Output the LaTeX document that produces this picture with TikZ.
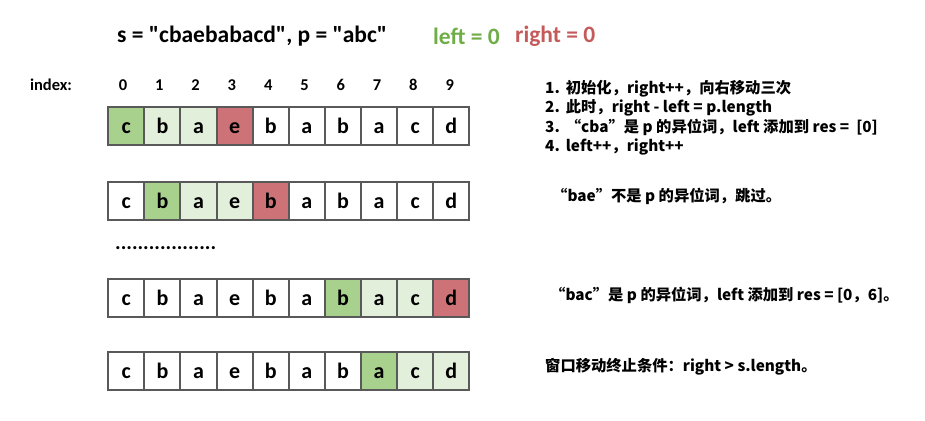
\documentclass[tikz,border=0pt]{standalone}
\usepackage{fontspec}
\setmainfont{Carlito}[Ligatures=TeXOff]
\newfontfamily\cjk{Noto Sans CJK SC}
\usetikzlibrary{positioning}
\definecolor{winframe}{RGB}{89,89,89}
\definecolor{windark}{RGB}{169,209,142}
\definecolor{winlight}{RGB}{226,239,218}
\definecolor{winred}{RGB}{205,114,119}
\definecolor{txtgreen}{RGB}{112,173,71}
\definecolor{txtred}{RGB}{197,90,90}

\begin{document}
\begin{tikzpicture}[x=1pt,y=-1pt,
cell/.style={draw=winframe,line width=2pt,minimum width=36.1pt,minimum height=38pt,inner sep=0pt,text height=14pt,text depth=0pt,font=\fontsize{22}{22}\selectfont\bfseries},
idx/.style={font=\fontsize{16.5}{16.5}\selectfont\bfseries},
ttl/.style={inner sep=0pt,font=\fontsize{23.5}{23.5}\selectfont\bfseries},
note/.style={inner sep=0pt,text height=11pt,text depth=4pt,font=\cjk\fontsize{15.3}{19}\selectfont\bfseries}
]
\useasboundingbox (0,0) rectangle (925,420);

\node[ttl,anchor=west] (title) at (117,36) {s = "cbaebabacd", p = "abc"};
\node[ttl,anchor=west,text=txtgreen] (lft) at (433,36) {left = 0};
\node[ttl,anchor=west,text=txtred] (rgt) at (515,36) {right = 0};

\node[idx] (index) at (51,85) {index:};
\foreach \i in {0,...,9}
  \node[idx] (i\i) at (123+36.3*\i,85) {\i};

\foreach \row/\yy/\l/\r in {1/126/0/3,2/201/1/4,3/298/6/9,4/371/7/10} {
  \foreach \ch [count=\i from 0] in {c,b,a,e,b,a,b,a,c,d} {
    \ifnum\i=\l \def\cf{windark}\else\ifnum\i=\r \def\cf{winred}\else
      \def\cf{white}\ifnum\i>\l\ifnum\i<\r \def\cf{winlight}\fi\fi\fi\fi
    \node[cell,fill=\cf] (r\row c\i) at (126.3+36.1*\i,\yy) {\ch};
  }
}

\node[anchor=west,inner sep=0pt,font=\fontsize{21}{21}\selectfont\bfseries] (dots) at (115,248) {..................};

\node[note,anchor=west] (s1) at (545,90) {1.\hspace{6pt}初始化，right++，向右移动三次};
\node[note,below=4pt of s1.south west,anchor=north west] (s2) {2.\hspace{6pt}此时，right - left = p.length};
\node[note,below=4pt of s2.south west,anchor=north west] (s3) {3.\hspace{6pt}“cba”是 p 的异位词，left 添加到 res =\hspace{7pt}[0]};
\node[note,below=4pt of s3.south west,anchor=north west] (s4) {4.\hspace{6pt}left++，right++};

\node[note,anchor=west] (bae) at (552,198) {“bae”不是 p 的异位词，跳过。};
\node[note,anchor=west] (bac) at (550,297) {“bac”是 p 的异位词，left 添加到 res = [0，6]。};
\node[note,anchor=west] (stop) at (545,368) {窗口移动终止条件：right > s.length。};
\end{tikzpicture}
\end{document}
